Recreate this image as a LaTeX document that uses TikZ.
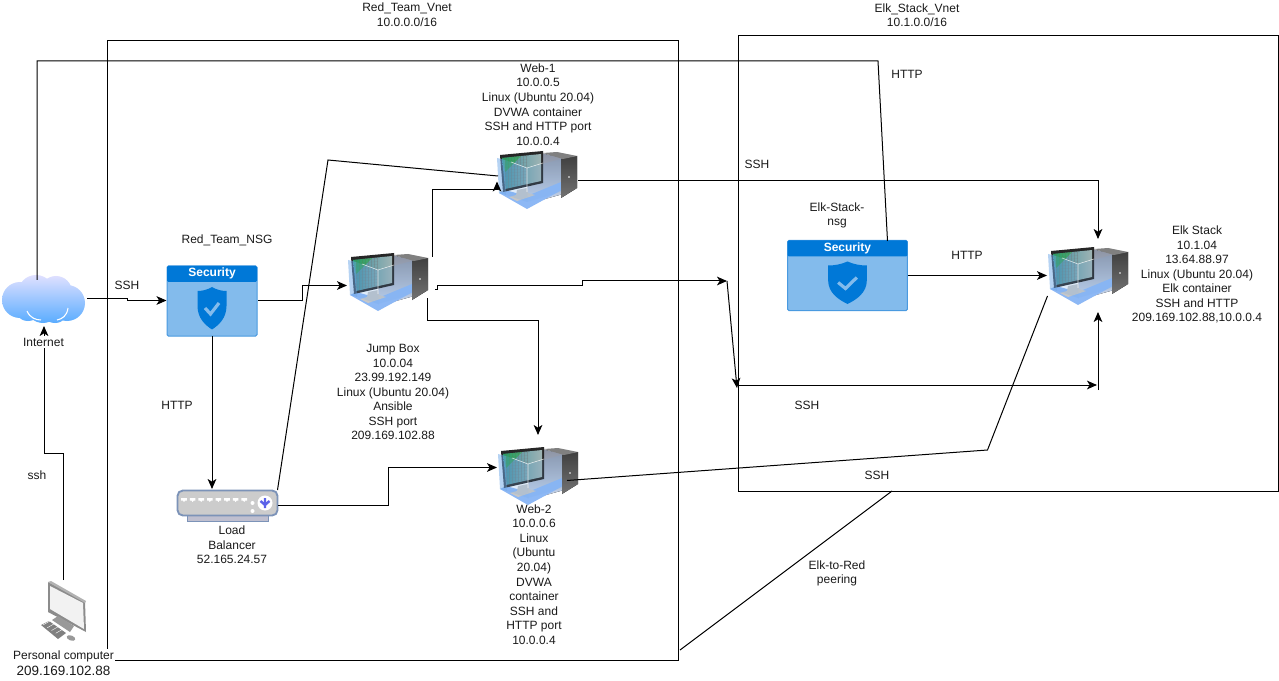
\documentclass[tikz,border=0pt]{standalone}
\usepackage{fontspec}
\setmainfont{Liberation Sans}
\usetikzlibrary{arrows.meta}
\definecolor{secblue}{HTML}{0078D7}
\definecolor{secpale}{HTML}{83BBEC}
\definecolor{secedge}{HTML}{4A9AE0}
\definecolor{lbedge}{HTML}{7C93B8}
\definecolor{txt}{HTML}{1A1A1A}
\definecolor{floorblue}{HTML}{8DB8F5}
\definecolor{wallblue}{HTML}{6FA8E8}
\definecolor{scrleft}{HTML}{3E8FA0}
\definecolor{scrright}{HTML}{9FB4B4}
\definecolor{roomtop}{HTML}{8C93A3}
\definecolor{roombot}{HTML}{C8D8F0}
\tikzset{
  lbl/.style={font=\fontsize{9}{10.9}\selectfont,text=txt,align=center,inner sep=0pt},
  lblbg/.style={lbl,fill=white,inner sep=1pt},
  conn/.style={draw=black,line width=.75pt},
  arr/.style={conn,-{Stealth[length=7.5pt,width=6.5pt,inset=2pt]}},
  vnet/.style={draw=black,line width=.75pt},
  iconbox/.style={inner sep=0pt,minimum width=60pt,minimum height=45pt},
  serverpic/.pic={
    % back room, grey to pale blue
    \fill[top color=roomtop,bottom color=roombot] (43,3)--(66,8)--(66,44)--(30,54)--(30,16)--cycle;
    % floor
    \fill[floorblue] (2,43)--(30,59)--(74,35)--(64,32)--(30,46)--(8,40)--cycle;
    % tower
    \fill[top color=black!75,bottom color=black!55] (64,9)--(80,6)--(80,38)--(64,48)--cycle;
    \fill[black!50] (46,3)--(66,9)--(80,6)--(60,2)--cycle;
    \fill[white] (72,27) circle (.8);
    % monitor
    \fill[black!85] (3,5)--(46,1)--(46,33)--(6,42)--cycle;
    \shade[left color=scrleft,right color=scrright] (5,8)--(44,4)--(44,31)--(8,39)--cycle;
    \begin{scope}
      \clip (5,8)--(44,4)--(44,31)--(8,39)--cycle;
      \foreach \q in {8,11,...,29}{\draw[black!55,opacity=.35,line width=.2pt] (\q,0)--(\q,42);}
      \foreach \q in {6,9,...,42}{\draw[black!55,opacity=.3,line width=.2pt] (0,\q)--(30,\q-2.5);}
      \fill[green!70!black,opacity=.35] (5,8)--(24,6)--(8,22)--cycle;
    \end{scope}
    % stand
    \fill[black!22] (12,47)--(19,45)--(20,40)--(30,38)--(31,43)--(38,45)--(20,51)--cycle;
    % left glass wall
    \fill[wallblue,opacity=.5] (0,8)--(8,10)--(9,45)--(2,43)--cycle;
    \fill[wallblue,opacity=.22] (8,10)--(30,18)--(30,52)--(9,45)--cycle;
    \fill[wallblue,opacity=.15] (30,18)--(64,9)--(64,42)--(30,52)--cycle;
    \draw[white,opacity=.8,line width=.4pt] (30,18)--(30,42) (30,18)--(46,13) (30,18)--(14,12);
  }
}
\newcommand{\secpanel}[3]{% x,y,xscale
  \begin{scope}[shift={(#1,#2)},xscale=#3]
    \fill[secpale,draw=secedge,line width=.75pt,rounded corners=1pt] (0,0) rectangle (90,70);
    \fill[secblue,rounded corners=1pt] (0,0) rectangle (90,16);
    \fill[secblue] (45,21) .. controls (50,24) and (55,25) .. (59.5,25) -- (59.5,40)
       .. controls (59.5,52) and (52,59) .. (45,63.5)
       .. controls (38,59) and (30.5,52) .. (30.5,40) -- (30.5,25)
       .. controls (35,25) and (40,24) .. (45,21) -- cycle;
    \draw[secpale,line width=2.4pt] (38,42)--(43.5,48)--(52,37);
    \node[font=\bfseries\fontsize{9}{10}\selectfont,text=white,inner sep=0pt] at (45,7.5) {Security};
  \end{scope}
}
\begin{document}
\begin{tikzpicture}[x=.75pt,y=-.75pt]
\useasboundingbox (0,0) rectangle (1279,681);
\fill[white] (0,0) rectangle (1279,681);

% vnet boxes
\node[vnet,inner sep=0pt,minimum width=428.25pt,minimum height=464.25pt] (rednet) at (392.5,350.5) {};
\node[vnet,inner sep=0pt,minimum width=405pt,minimum height=341.25pt] (elknet) at (1008,263.5) {};

% icon nodes
\node[iconbox] (web1) at (537,180) {};
\node[iconbox] (jump) at (388,282) {};
\node[iconbox] (web2) at (538,476) {};
\node[iconbox] (elk) at (1088,276) {};
\node[inner sep=0pt,minimum width=67.5pt,minimum height=52.5pt] (nsg) at (212,301) {};
\node[inner sep=0pt,minimum width=90pt,minimum height=52.5pt] (elknsg) at (847.5,275.5) {};
\node[inner sep=0pt,minimum width=75.75pt,minimum height=23.25pt] (lb) at (227.5,505.5) {};
\node[inner sep=0pt,minimum width=62.25pt,minimum height=36pt] (cloud) at (43.5,299) {};
\node[inner sep=0pt,minimum width=33.75pt,minimum height=45pt] (pc) at (63,611) {};

% cloud
\shade[top color=blue!12!white,bottom color=blue!50!cyan!65!white]
  (20,300) circle (18) (36,293) circle (18) (56,292) circle (16)
  (67,303) circle (18) (55,309) circle (14) (43,306) circle (17) (28,307) circle (14);
\draw[white,line width=.8pt] (27,311) .. controls (30,318) and (36,320) .. (41,320);
\draw[white,line width=.8pt] (68,308) .. controls (67,316) and (62,319) .. (57,320);

% security
\secpanel{167}{266}{1}
\secpanel{787.5}{240.5}{1.333}

% servers
\pic at (497,150) {serverpic};
\pic at (348,252) {serverpic};
\pic at (498,446) {serverpic};
\pic at (1048,246) {serverpic};

% load balancer
\fill[blue!25!black!25,draw=lbedge,line width=.75pt] (187,515) rectangle (268,521);
\draw[lbedge,fill=black!20,line width=1.4pt,rounded corners=4pt] (177.5,490.5) rectangle (277.5,515.5);
\foreach \q in {184,192.6,...,246}{\fill[white] (\q-2.8,498)--(\q+2.8,498)--(\q+2.8,500.5)--(\q+1.2,500.5)--(\q,502)--(\q-1.2,500.5)--(\q-2.8,500.5)--cycle;}
\fill[white] (252.5,503) circle (2) (252.5,511) circle (2);
\fill[white] (265,503) circle (7.5);
\draw[lbedge!40!blue!80!white,line width=1.8pt] (265,498)--(265,508) (260.5,501)--(265,505)--(269.5,501);

% personal computer
\fill[black!45] (48,582)--(85,601)--(86,632)--(48,612)--cycle;
\fill[black!30] (48,582)--(51,581)--(86,601)--(85,603)--cycle;
\fill[white!95!black] (50,586)--(83,603)--(84,629)--(50,609)--cycle;
\fill[black!40] (52,620)--(58,616)--(74,626)--(70,632)--cycle;
\fill[black!50] (41,625)--(49,621)--(66,633)--(58,639)--cycle;
\foreach \q in {0,.25,.5,.75}{\draw[white,line width=.3pt] (43+17*\q,625+11*\q)--(50+17*\q,621+11*\q);}
\fill[black!40,rotate around={-20:(71,638)}] (71,638) ellipse (4.5 and 2.5);

% helper coordinates for connector bends
\coordinate (netA) at (37,280);
\coordinate (netB) at (37,61);
\coordinate (netC) at (878,61);
\coordinate (netD) at (887.5,241);
\coordinate (pcA) at (63,580);
\coordinate (pcB) at (63,453);
\coordinate (pcC) at (44,453);
\coordinate (pcD) at (44,326);
\coordinate (cnA) at (127,298.5);
\coordinate (cnB) at (127,300.5);
\coordinate (snA) at (302,300.5);
\coordinate (snB) at (302,285.5);
\coordinate (jmpIn) at (347,285.5);
\coordinate (lbA) at (277.5,490);
\coordinate (lbB) at (328,160);
\coordinate (wInA) at (498,176);
\coordinate (lbC) at (388,505.5);
\coordinate (lbD) at (388,467.5);
\coordinate (w2In) at (497,467.5);
\coordinate (jwA) at (432,257);
\coordinate (jwB) at (432,190);
\coordinate (jwC) at (497,190);
\coordinate (jwD) at (497,181.5);
\coordinate (jrA) at (435,290);
\coordinate (jrB) at (437.5,290);
\coordinate (jrC) at (437.5,285.5);
\coordinate (jrD) at (582.5,285.5);
\coordinate (jrE) at (582.5,281);
\coordinate (jrF) at (727,281);
\coordinate (jrG) at (737,388);
\coordinate (jdA) at (427.5,298);
\coordinate (jdB) at (427.5,320.5);
\coordinate (jdC) at (538,320.5);
\coordinate (jdD) at (538,435);
\coordinate (weA) at (578,180.5);
\coordinate (weB) at (1098,180.5);
\coordinate (weC) at (1098,239);
\coordinate (elkIn) at (1047,275.5);
\coordinate (hzA) at (738,385);
\coordinate (hzB) at (1097,385);
\coordinate (vtA) at (1098,390);
\coordinate (vtB) at (1098,312);
\coordinate (w2A) at (567,480.5);
\coordinate (w2B) at (987.5,450);
\coordinate (w2C) at (1047.5,296);
\coordinate (peerA) at (680,650);
\coordinate (peerB) at (892,491);
\coordinate (sdE) at (212,489);
\coordinate (nsgOut) at (258,300.5);
\coordinate (nsgIn) at (166.5,300.5);
\coordinate (cldOut) at (87,298.5);
\coordinate (esOut) at (908,275.5);

% connectors
\draw[conn] (netA)--(netB)--(netC)--(netD);
\draw[arr] (pcA)--(pcB)--(pcC)--(pcD);
\draw[arr] (cldOut)--(cnA)--(cnB)--(nsgIn);
\draw[arr] (nsgOut)--(snA)--(snB)--(jmpIn);
\draw[arr] (nsg.south)--(sdE);
\draw[conn] (lbA)--(lbB)--(wInA);
\draw[arr] (lb.east)--(lbC)--(lbD)--(w2In);
\draw[arr] (jwA)--(jwB)--(jwC)--(jwD);
\draw[arr] (jrA)--(jrB)--(jrC)--(jrD)--(jrE)--(jrF);
\draw[arr] (jrF)--(jrG);
\draw[arr] (jdA)--(jdB)--(jdC)--(jdD);
\draw[arr] (weA)--(weB)--(weC);
\draw[arr] (esOut)--(elkIn);
\draw[arr] (hzA)--(hzB);
\draw[arr] (vtA)--(vtB);
\draw[conn] (w2A)--(w2B)--(w2C);
\draw[conn] (peerA)--(peerB);

% labels
\node[lbl] (t1) at (407,14.5) {Red\_Team\_Vnet\\10.0.0.0/16};
\node[lbl] (t2) at (917,15) {Elk\_Stack\_Vnet\\10.1.0.0/16};
\node[lbl] (t3) at (538,104.5) {Web-1\\10.0.0.5\\Linux (Ubuntu 20.04)\\DVWA container\\SSH and HTTP port\\10.0.0.4};
\node[lbl] (t4) at (227,240) {Red\_Team\_NSG};
\node[lbl] (t5) at (127,285) {SSH};
\node[lblbg] (t6) at (43.5,342) {Internet};
\node[lbl] (t7) at (177,405) {HTTP};
\node[lbl] (t8) at (37,475) {ssh};
\node[lbl] (t9) at (393,392) {Jump Box\\10.0.04\\23.99.192.149\\Linux (Ubuntu 20.04)\\Ansible\\SSH port\\209.169.102.88};
\node[lbl] (t10) at (232,545) {Load\\Balancer\\52.165.24.57};
\node[lbl] (t11) at (534,574.5) {Web-2\\10.0.0.6\\Linux\\(Ubuntu\\20.04)\\DVWA\\container\\SSH and\\HTTP port\\10.0.0.4};
\node[lbl] (t12) at (837,215.5) {Elk-Stack-\\nsg};
\node[lbl] (t13) at (907,74) {HTTP};
\node[lbl] (t14) at (757,164) {SSH};
\node[lbl] (t15) at (967,255) {HTTP};
\node[lbl] (t16) at (807,405) {SSH};
\node[lbl] (t17) at (877,475) {SSH};
\node[lbl] (t18) at (837,573.5) {Elk-to-Red\\peering};
\node[lbl] (t19) at (1197,274.5) {Elk Stack\\10.1.04\\13.64.88.97\\Linux (Ubuntu 20.04)\\Elk container\\SSH and HTTP\\209.169.102.88,10.0.0.4};
\node[lblbg] (t20) at (63.5,656) {Personal computer};
\node[lbl,font=\fontsize{10.1}{12}\selectfont] (t21) at (63.5,671) {209.169.102.88};
\end{tikzpicture}
\end{document}
